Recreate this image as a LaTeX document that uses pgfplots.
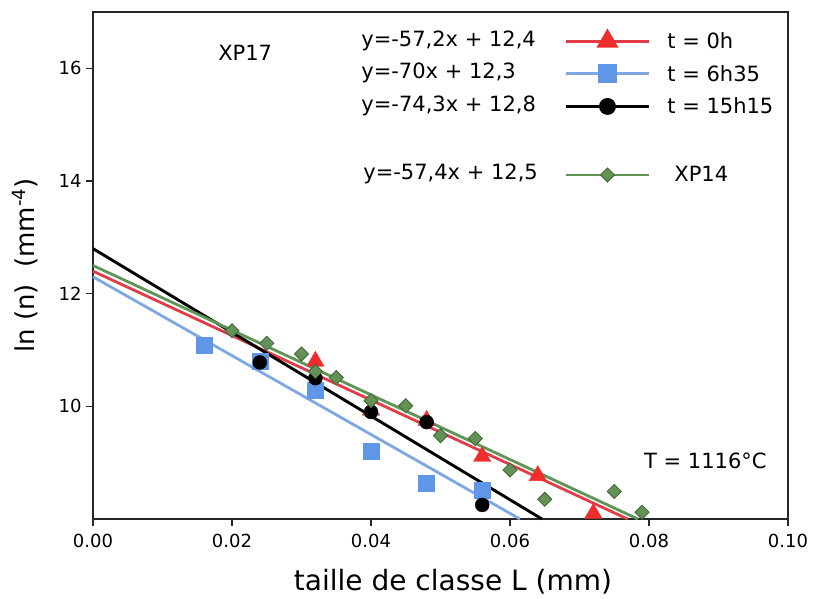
\documentclass[border=0pt]{standalone}
\usepackage{fontspec}
\setmainfont{DejaVu Sans}
\usepackage{pgfplots}
\pgfplotsset{compat=1.18}
\definecolor{redL}{RGB}{228,60,70}
\definecolor{redM}{RGB}{240,45,45}
\definecolor{blueL}{RGB}{125,168,225}
\definecolor{blueM}{RGB}{95,150,232}
\definecolor{greenL}{RGB}{95,150,85}
\definecolor{greenM}{RGB}{100,145,85}
\definecolor{greenD}{RGB}{60,100,55}
\newcommand{\fs}[1]{\fontsize{#1}{#1}\selectfont}
\begin{document}
\begin{tikzpicture}
\useasboundingbox (-93pt,-79pt) rectangle (724pt,519pt);
\begin{axis}[
  at={(0,0)}, anchor=south west,
  scale only axis, width=695pt, height=507pt,
  xmin=0, xmax=0.10, ymin=8, ymax=17,
  xtick={0,0.02,0.04,0.06,0.08,0.10},
  ytick={10,12,14,16},
  xtick pos=bottom, ytick pos=left,
  tick align=outside,
  major tick length=7pt,
  every tick/.style={black!85, line width=1.2pt},
  axis line style={black!85, line width=1.2pt},
  /pgf/number format/assume math mode=true,
  xticklabel style={font=\fs{18}, yshift=-5pt, /pgf/number format/.cd, fixed, fixed zerofill, precision=2},
  yticklabel style={font=\fs{18}, xshift=-1pt},
  scaled x ticks=false,
  xlabel={taille de classe L (mm)},
  ylabel={ln (n)\ \ (mm\textsuperscript{-4})},
  xlabel style={font=\fs{28}, at={(axis description cs:0.518,-0.124)}, anchor=center},
  ylabel style={font=\fs{26}, at={(axis description cs:-0.098,0.5)}, anchor=center},
  clip=false,
  legend style={at={(axis description cs:0.383,0.968)}, anchor=north west,
    draw=none, fill=none, inner sep=0pt, row sep=9pt, font=\fs{21},
    cells={anchor=west}},
]
% fit lines
\addplot[redL, line width=2.8pt, forget plot] coordinates {(0,12.4) (0.07692,8)};
\addplot[blueL, line width=2.8pt, forget plot] coordinates {(0,12.3) (0.06143,8)};
\addplot[black, line width=2.9pt, forget plot] coordinates {(0,12.8) (0.06460,8)};
\addplot[greenL, line width=2.8pt, forget plot] coordinates {(0,12.5) (0.07840,8)};
% data
\addplot[only marks, mark=triangle*, mark size=10pt, mark options={fill=redM, draw=redM}, forget plot] coordinates {
 (0.032,10.80) (0.040,9.93) (0.048,9.75) (0.056,9.11) (0.064,8.77) (0.072,8.10)};
\addplot[only marks, mark=square*, mark size=8pt, mark options={fill=blueM, draw=blueM}, forget plot] coordinates {
 (0.016,11.09) (0.024,10.80) (0.032,10.28) (0.040,9.20) (0.048,8.64) (0.056,8.52)};
\addplot[only marks, mark=*, mark size=7pt, mark options={fill=black, draw=black}, forget plot] coordinates {
 (0.024,10.78) (0.032,10.50) (0.040,9.90) (0.048,9.72) (0.056,8.25)};
\addplot[only marks, mark=square*, mark size=5pt, mark options={fill=greenM, draw=greenD, rotate=45, line width=0.8pt}, forget plot] coordinates {
 (0.020,11.34) (0.025,11.12) (0.030,10.93) (0.032,10.62) (0.035,10.51) (0.040,10.10) (0.045,10.01)
 (0.050,9.48) (0.055,9.43) (0.060,8.87) (0.065,8.35) (0.075,8.49) (0.079,8.12)};
% legend
\addlegendimage{redL, line width=2.8pt, mark=triangle*, mark size=10pt, mark options={fill=redM, draw=redM},
  legend image code/.code={\node[anchor=mid west, font=\fs{21}, text=black] at (-208pt,-2pt) {y=-57,2x + 12,4};
   \draw[mark repeat=2, mark phase=2] plot coordinates {(0pt,0pt) (41.5pt,0pt) (83pt,0pt)};}}
\addlegendentry{\hspace{15pt}t = 0h}
\addlegendimage{blueL, line width=2.8pt, mark=square*, mark size=8pt, mark options={fill=blueM, draw=blueM},
  legend image code/.code={\node[anchor=mid west, font=\fs{21}, text=black] at (-208pt,-2pt) {y=-70x + 12,3};
   \draw[mark repeat=2, mark phase=2] plot coordinates {(0pt,0pt) (41.5pt,0pt) (83pt,0pt)};}}
\addlegendentry{\hspace{15pt}t = 6h35}
\addlegendimage{black, line width=2.9pt, mark=*, mark size=7pt, mark options={fill=black, draw=black},
  legend image code/.code={\node[anchor=mid west, font=\fs{21}, text=black] at (-208pt,-2pt) {y=-74,3x + 12,8};
   \draw[mark repeat=2, mark phase=2] plot coordinates {(0pt,0pt) (41.5pt,0pt) (83pt,0pt)};}}
\addlegendentry{\hspace{15pt}t = 15h15}
\addlegendimage{greenL, line width=2.8pt, mark=square*, mark size=5pt, mark options={fill=greenM, draw=greenD, rotate=45, line width=0.8pt},
  legend image code/.code={\node[inner sep=0pt, minimum size=0pt, draw=none, fill=none] at (0pt,48pt) {};
   \node[anchor=mid west, font=\fs{21}, text=black] at (-206pt,-2pt) {y=-57,4x + 12,5};
   \draw[mark repeat=2, mark phase=2] plot coordinates {(0pt,0pt) (41.5pt,0pt) (83pt,0pt)};}}
\addlegendentry{\hspace{22pt}XP14}
% annotations
\node[font=\fs{21}] at (axis cs:0.0219,16.27) {XP17};
\node[font=\fs{21}, anchor=west] at (axis cs:0.0788,9.04) {T = 1116°C};
\end{axis}
\end{tikzpicture}
\end{document}
